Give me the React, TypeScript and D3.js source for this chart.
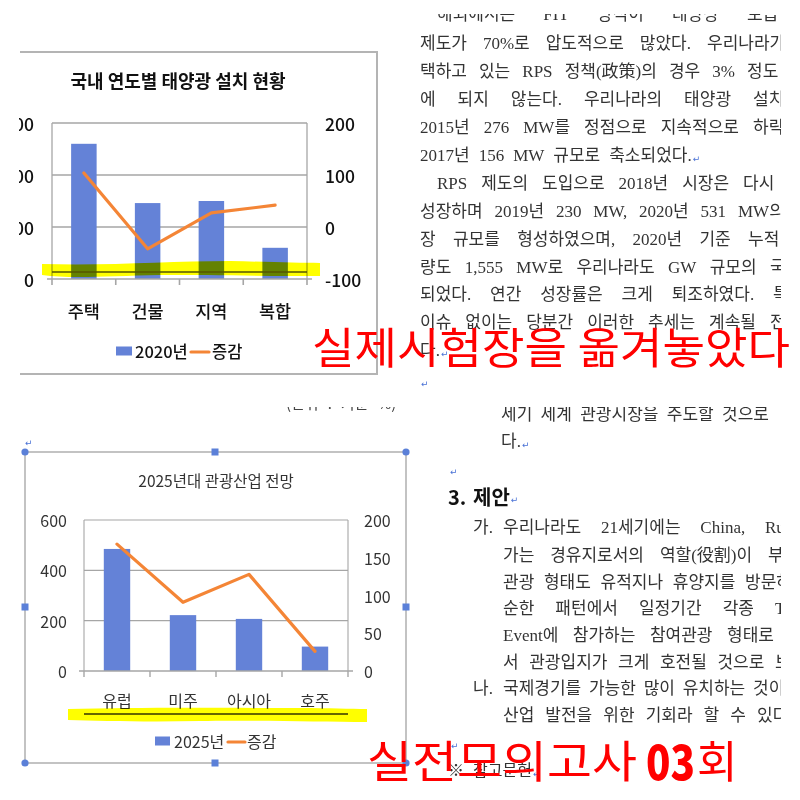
import { useEffect, useRef } from 'react';
import * as d3 from 'd3';

// chart 1: 국내 연도별 태양광 설치 현황
const solarCats = ['주택', '건물', '지역', '복합'];
const solar2020 = [260, 146, 150, 60];
const solarChange = [104, -42, 27, 42];
const solarLeftTicks = [0, 100, 200, 300];
const solarRightTicks = [-100, 0, 100, 200];

// chart 2: 2025년대 관광산업 전망
const tourCats = ['유럽', '미주', '아시아', '호주'];
const tour2025 = [485, 222, 207, 97];
const tourChange = [168, 91, 128, 26];
const tourLeftTicks = [0, 200, 400, 600];
const tourRightTicks = [0, 50, 100, 150, 200];

const BAR = '#6482d7';
const LINE = '#f48536';
const GRID = '#a6a6a6';
const CJK = '"Noto Sans CJK KR", "Noto Sans", sans-serif';
const BODY = '"Liberation Serif", "Noto Sans CJK KR", serif';

type TextLine = {
  t: string; x: number; y: number; last?: number; ret?: boolean;
  size?: number; weight?: string; font?: string; color?: string;
};

// body text, upper half
const upperLines: TextLine[] = [
  { t: '해외에서는 FIT 방식이 태양광 보급', x: 437, y: 14, last: 747 },
  { t: '제도가 70%로 압도적으로 많았다. 우리나라가', x: 420, y: 43, last: 707 },
  { t: '택하고 있는 RPS 정책(政策)의 경우 3% 정도', x: 420, y: 71, last: 747 },
  { t: '에 되지 않는다. 우리나라의 태양광 설치', x: 420, y: 99, last: 753 },
  { t: '2015년 276 MW를 정점으로 지속적으로 하락', x: 420, y: 127, last: 753 },
  { t: '2017년 156 MW 규모로 축소되었다.', x: 420, y: 155, ret: true },
  { t: 'RPS 제도의 도입으로 2018년 시장은 다시', x: 437, y: 183, last: 743 },
  { t: '성장하며 2019년 230 MW, 2020년 531 MW의', x: 420, y: 211, last: 738 },
  { t: '장 규모를 형성하였으며, 2020년 기준 누적', x: 420, y: 239, last: 748 },
  { t: '량도 1,555 MW로 우리나라도 GW 규모의 국', x: 420, y: 267, last: 770 },
  { t: '되었다. 연간 성장률은 크게 퇴조하였다. 특', x: 420, y: 294, last: 773 },
  { t: '이슈 없이는 당분간 이러한 추세는 계속될 전', x: 420, y: 322, last: 770 },
  { t: '다.', x: 420, y: 350, ret: true },
  { t: '', x: 421, y: 380, ret: true },
];

// body text, lower half
const lowerLines: TextLine[] = [
  { t: '(단위 : 기준 %)', x: 286, y: 402, size: 15, font: CJK, color: '#444' },
  { t: '세기 세계 관광시장을 주도할 것으로', x: 501, y: 414, last: 722 },
  { t: '다.', x: 501, y: 441, ret: true },
  { t: '', x: 450, y: 468, ret: true },
  { t: '', x: 25, y: 439, ret: true },
  { t: '3.', x: 448, y: 496, size: 20, weight: 'bold', font: CJK, color: '#111' },
  { t: '제안', x: 473, y: 496, size: 20, weight: 'bold', font: CJK, color: '#111', ret: true },
  { t: '가.', x: 473, y: 527 },
  { t: '우리나라도 21세기에는 China, Ru', x: 503, y: 527, last: 765 },
  { t: '가는 경유지로서의 역할(役割)이 부', x: 503, y: 555, last: 768 },
  { t: '관광 형태도 유적지나 휴양지를 방문하', x: 503, y: 582, last: 745 },
  { t: '순한 패턴에서 일정기간 각종 T', x: 503, y: 608, last: 775 },
  { t: 'Event에 참가하는 참여관광 형태로', x: 503, y: 635, last: 727 },
  { t: '서 관광입지가 크게 호전될 것으로 보', x: 503, y: 662, last: 775 },
  { t: '나.', x: 473, y: 688 },
  { t: '국제경기를 가능한 많이 유치하는 것이', x: 503, y: 688, last: 753 },
  { t: '산업 발전을 위한 기회라 할 수 있다', x: 503, y: 715, last: 757 },
  { t: '', x: 451, y: 742, ret: true },
  { t: '※ 참고문헌', x: 448, y: 770, size: 16, ret: true },
];

type ChartProps = {
  cats: string[]; bars: number[]; line: number[];
  leftTicks: number[]; rightTicks: number[];
  l: number; r: number; t: number; b: number;
  title: string; titleX: number; titleY: number; titleSize: number; titleWeight: string;
  leftX: number; rightX: number; catY: number;
  tickSize: number; catSize: number; color: string; gridW: number; weight: string;
  legendLabel: string; lg: { y: number; sq: number; sqW: number; tx: number; l1: number; l2: number; tx2: number };
  legendSize: number;
};

function ComboChart(p: ChartProps) {
  const x = d3.scaleBand<string>().domain(p.cats).range([p.l, p.r]).paddingInner(0.6).paddingOuter(0.3);
  const step = x.step();
  const yL = d3.scaleLinear().domain(d3.extent(p.leftTicks) as [number, number]).range([p.b, p.t]);
  const yR = d3.scaleLinear().domain(d3.extent(p.rightTicks) as [number, number]).range([p.b, p.t]);
  const pts = p.cats.map((c, i) => [x(c)! + x.bandwidth() / 2, yR(p.line[i])] as [number, number]);
  const path = d3.line()(pts) ?? '';
  return (
    <g fontFamily={CJK} fill={p.color} fontWeight={p.weight}>
      <text x={p.titleX} y={p.titleY} textAnchor="middle" dominantBaseline="central"
        fontSize={p.titleSize} fontWeight={p.titleWeight}>{p.title}</text>
      {p.leftTicks.map(v => (
        <g key={'g' + v}>
          {v !== p.leftTicks[0] && (
            <line x1={p.l} x2={p.r} y1={yL(v)} y2={yL(v)} stroke={GRID} strokeWidth={p.gridW} />
          )}
          <text x={p.leftX} y={yL(v)} textAnchor="end" dominantBaseline="central" fontSize={p.tickSize}>{v}</text>
        </g>
      ))}
      {p.rightTicks.map(v => (
        <text key={'r' + v} x={p.rightX} y={yR(v)} dominantBaseline="central" fontSize={p.tickSize}>{v}</text>
      ))}
      <line x1={p.l} x2={p.l} y1={p.t} y2={p.b} stroke={GRID} strokeWidth={p.gridW} />
      <line x1={p.r} x2={p.r} y1={p.t} y2={p.b} stroke={GRID} strokeWidth={p.gridW} />
      {p.cats.map((c, i) => (
        <rect key={c} x={x(c)} y={yL(p.bars[i])} width={x.bandwidth()} height={p.b - yL(p.bars[i])} fill={BAR} />
      ))}
      <line x1={p.l - 5} x2={p.r + 5} y1={p.b} y2={p.b} stroke={GRID} strokeWidth={p.gridW + 0.3} />
      {d3.range(p.cats.length + 1).map(i => (
        <line key={'t' + i} x1={p.l + i * step} x2={p.l + i * step} y1={p.b} y2={p.b + 6} stroke={GRID} strokeWidth={p.gridW + 0.3} />
      ))}
      <path d={path} fill="none" stroke={LINE} strokeWidth={3.2} strokeLinejoin="round" strokeLinecap="round" />
      {p.cats.map(c => (
        <text key={'c' + c} x={x(c)! + x.bandwidth() / 2} y={p.catY} textAnchor="middle" dominantBaseline="central" fontSize={p.catSize}>{c}</text>
      ))}
      <rect x={p.lg.sq} y={p.lg.y - 4.5} width={p.lg.sqW} height={9} fill={BAR} />
      <text x={p.lg.tx} y={p.lg.y} dominantBaseline="central" fontSize={p.legendSize}>{p.legendLabel}</text>
      <line x1={p.lg.l1} x2={p.lg.l2} y1={p.lg.y + 1} y2={p.lg.y + 1} stroke={LINE} strokeWidth={3.2} strokeLinecap="round" />
      <text x={p.lg.tx2} y={p.lg.y} dominantBaseline="central" fontSize={p.legendSize}>증감</text>
    </g>
  );
}

export default function App() {
  const bodyRef = useRef<SVGGElement>(null);

  useEffect(() => {
    if (!bodyRef.current) return;
    const g = d3.select(bodyRef.current);
    g.selectAll('*').remove();

    const draw = (lines: TextLine[], clip: string) => {
      const grp = g.append('g').attr('clip-path', `url(#${clip})`);
      lines.forEach(ln => {
        const words = ln.t.split(' ').filter(Boolean);
        const nodes = words.map(w => grp.append('text')
          .attr('y', ln.y)
          .attr('dominant-baseline', 'central')
          .attr('font-family', ln.font ?? BODY)
          .attr('font-size', ln.size ?? 17)
          .attr('font-weight', ln.weight ?? 'normal')
          .attr('fill', ln.color ?? '#333')
          .text(w));
        const widths = nodes.map(n => (n.node() as SVGTextElement).getComputedTextLength());
        let gap = 9;
        if (ln.last != null && words.length > 1) {
          gap = (ln.last - ln.x - d3.sum(widths.slice(0, -1))) / (words.length - 1);
        }
        let cx = ln.x;
        nodes.forEach((n, i) => { n.attr('x', cx); cx += widths[i] + gap; });
        const end = words.length ? cx - gap + 1 : ln.x;
        if (ln.ret) {
          grp.append('text')
            .attr('x', end)
            .attr('y', ln.y + 4)
            .attr('dominant-baseline', 'central')
            .attr('font-family', 'DejaVu Sans')
            .attr('font-size', 9)
            .attr('fill', '#4a72d6')
            .text('↵');
        }
      });
    };

    draw(upperLines, 'clipUpper');
    draw(lowerLines, 'clipLower');
  }, []);

  const handles = [
    [25, 452], [406, 452], [25, 763], [406, 763],
  ];
  const squares = [
    [215, 452], [25, 607], [406, 607], [215, 763],
  ];

  return (
    <svg width={800} height={800} style={{ position: 'absolute', left: 0, top: 0 }}>
      <defs>
        <clipPath id="clipChart1"><rect x={19} y={0} width={800} height={403} /></clipPath>
        <clipPath id="clipUpper"><rect x={0} y={14} width={781} height={389} /></clipPath>
        <clipPath id="clipLower"><rect x={0} y={407} width={781} height={393} /></clipPath>
      </defs>
      <rect width={800} height={800} fill="#fff" />

      {/* top chart */}
      <g clipPath="url(#clipChart1)">
        <path d="M20,52 H377 V374 H20" fill="none" stroke="#b4b4b4" strokeWidth={2} />
        <ComboChart
          cats={solarCats} bars={solar2020} line={solarChange}
          leftTicks={solarLeftTicks} rightTicks={solarRightTicks}
          l={52} r={307} t={123} b={279}
          title="국내 연도별 태양광 설치 현황" titleX={178} titleY={80} titleSize={18} titleWeight="bold"
          leftX={34} rightX={325} catY={310}
          tickSize={17.5} catSize={17.5} color="#111" gridW={1.3} weight="500"
          legendLabel="2020년" legendSize={16.5}
          lg={{ y: 351, sq: 116, sqW: 16, tx: 135, l1: 191, l2: 209, tx2: 212 }}
        />
        <line x1={52} x2={307} y1={272} y2={272} stroke="#555" strokeWidth={1.5} />
        <path
          d="M42,264 C110,266 170,261 230,261 C270,262 300,263 320,263 L320,276 C270,276 210,275 160,275 C110,276 70,279 42,275 Z"
          fill="#ffff00" style={{ mixBlendMode: 'multiply' }}
        />
      </g>

      {/* bottom chart */}
      <rect x={25} y={452} width={381} height={311} fill="none" stroke="#9c9c9c" strokeWidth={1.2} />
      <ComboChart
        cats={tourCats} bars={tour2025} line={tourChange}
        leftTicks={tourLeftTicks} rightTicks={tourRightTicks}
        l={84} r={348} t={520} b={671}
        title="2025년대 관광산업 전망" titleX={216} titleY={480} titleSize={15.5} titleWeight="normal"
        leftX={67} rightX={364} catY={700}
        tickSize={16} catSize={16} color="#333" gridW={1.1} weight="normal"
        legendLabel="2025년" legendSize={16}
        lg={{ y: 741, sq: 155, sqW: 15, tx: 174, l1: 228, l2: 245, tx2: 247 }}
      />
      <line x1={84} x2={348} y1={714} y2={714} stroke="#666" strokeWidth={2} />
      <path
        d="M68,709 C140,707 240,708 300,708 C330,708 350,709 367,709 L367,722 C320,722 250,720 200,721 C150,722 100,721 68,720 Z"
        fill="#ffff00" style={{ mixBlendMode: 'multiply' }}
      />
      {handles.map(([hx, hy]) => <circle key={`c${hx}${hy}`} cx={hx} cy={hy} r={3.6} fill="#5b80d8" />)}
      {squares.map(([hx, hy]) => <rect key={`s${hx}${hy}`} x={hx - 3.5} y={hy - 3.5} width={7} height={7} fill="#5b80d8" />)}

      <g ref={bodyRef} />

      {/* red overlay captions */}
      <g fill="#ff0000" fontFamily={CJK}>
        <text x={312} y={345} dominantBaseline="central" fontSize={43} textLength={478} lengthAdjust="spacingAndGlyphs">실제시험장을 옮겨놓았다</text>
        <text x={367} y={759} dominantBaseline="central" fontSize={44} textLength={270} lengthAdjust="spacingAndGlyphs">실전모의고사</text>
        <text x={646} y={759} dominantBaseline="central" fontSize={48} fontWeight={900} textLength={49} lengthAdjust="spacingAndGlyphs">03</text>
        <text x={697} y={759} dominantBaseline="central" fontSize={44}>회</text>
      </g>
    </svg>
  );
}
